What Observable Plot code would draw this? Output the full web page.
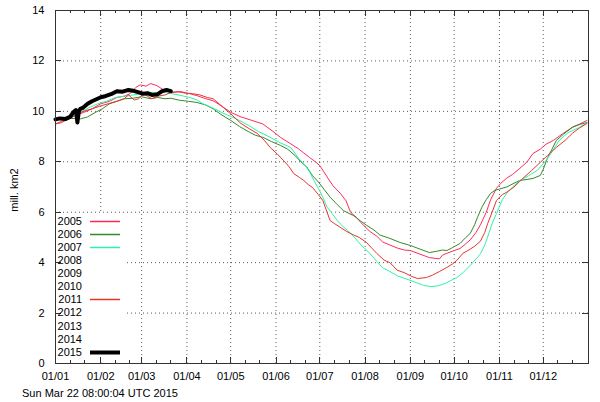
<!DOCTYPE html>
<html><head><meta charset="utf-8">
<script src="https://cdn.jsdelivr.net/npm/d3@7"></script>
<script src="https://cdn.jsdelivr.net/npm/@observablehq/plot@0.6"></script>
<style>body{margin:0;background:#fff}svg{display:block}</style>
</head><body><div id="chart"></div>
<script>
const legendYears = ["2005","2006","2007","2008","2009","2010","2011","2012","2013","2014","2015"];
const yearColors = {"2005":"#ff2a5a","2006":"#35892a","2007":"#2ef2aa","2011":"#e8352a","2015":"#000000"};
const monthStarts = [1,32,60,91,121,152,182,213,244,274,305,335];
const monthLabels = ["01/01","01/02","01/03","01/04","01/05","01/06","01/07","01/08","01/09","01/10","01/11","01/12"];
const yTicks = [0,2,4,6,8,10,12,14];
const footerText = "Sun Mar 22 08:00:04 UTC 2015";
const yTitle = "mill. km2";

const days2005 = [1,5,10,15,20,26,32,38,43,48,52,56,59,63,66,69,71,75,80,87,93,98,104,109,115,121,128,135,143,150,155,161,167,171,175,179,182,187,191,196,200,203,207,210,216,221,225,230,235,240,244,250,257,261,264,266,269,274,278,282,285,289,292,296,299,303,306,310,314,319,324,328,333,337,342,348,355,360,365];
const ext2005 = [9.5,9.55,9.7,9.85,9.95,10.1,10.3,10.4,10.55,10.6,10.7,10.95,11.05,11.0,11.1,11.05,11.0,10.85,10.75,10.78,10.7,10.62,10.5,10.42,10.2,9.96,9.78,9.65,9.5,9.2,8.97,8.75,8.53,8.35,8.17,8.0,7.85,7.4,7.05,6.75,6.45,6.0,5.8,5.6,5.25,5.05,4.82,4.7,4.58,4.5,4.48,4.35,4.2,4.17,4.15,4.3,4.37,4.48,4.56,4.75,4.9,5.2,5.5,6.0,6.5,6.95,7.15,7.35,7.5,7.74,8.0,8.33,8.5,8.7,8.85,9.1,9.37,9.5,9.64];

const days2006 = [1,6,12,18,23,28,33,38,43,48,54,60,66,71,76,80,86,92,98,104,109,115,121,127,133,138,143,149,155,160,165,169,173,177,181,185,189,194,198,202,205,210,214,219,223,230,237,244,250,257,262,266,269,273,278,282,285,288,290,293,296,299,302,305,310,315,319,324,328,333,335,338,341,344,349,355,360,365];
const ext2006 = [9.7,9.7,9.72,9.7,9.78,9.95,10.1,10.3,10.4,10.5,10.52,10.58,10.5,10.55,10.5,10.52,10.44,10.4,10.35,10.25,10.1,9.85,9.64,9.4,9.2,9.05,8.97,8.8,8.65,8.5,8.25,8.0,7.8,7.45,7.2,6.9,6.6,6.3,6.07,5.95,5.87,5.65,5.48,5.3,5.1,4.96,4.8,4.68,4.55,4.4,4.45,4.5,4.48,4.6,4.76,5.0,5.16,5.5,5.8,6.2,6.5,6.75,6.87,6.92,7.0,7.15,7.26,7.3,7.34,7.46,7.7,8.17,8.5,8.85,9.1,9.37,9.48,9.56];

const days2007 = [1,6,12,18,24,30,36,42,48,54,60,66,71,76,81,87,93,98,102,106,110,115,121,127,133,140,148,155,162,168,172,175,178,181,184,187,191,194,198,201,205,208,211,214,218,221,225,230,235,240,246,253,258,263,268,272,276,280,285,289,292,295,298,300,303,307,310,314,319,325,331,337,341,346,352,360,365];
const ext2007 = [9.7,9.75,9.8,9.95,10.15,10.3,10.4,10.55,10.6,10.65,10.7,10.75,10.72,10.75,10.7,10.63,10.55,10.45,10.3,10.2,10.1,9.95,9.8,9.64,9.45,9.2,8.97,8.75,8.57,8.1,7.85,7.6,7.25,6.95,6.6,6.2,5.9,5.67,5.42,5.28,5.05,4.85,4.65,4.5,4.25,4.05,3.8,3.65,3.48,3.38,3.25,3.1,3.05,3.08,3.18,3.3,3.41,3.6,3.89,4.15,4.35,4.7,5.2,5.55,5.95,6.5,6.75,7.0,7.26,7.45,7.66,8.06,8.4,8.85,9.15,9.37,9.55];

const days2011 = [1,5,10,15,20,26,31,37,43,48,51,55,58,61,64,67,71,76,80,85,90,95,100,105,109,115,121,128,134,139,144,148,153,157,161,164,168,171,174,177,181,184,187,189,192,196,200,205,209,214,218,221,226,230,235,240,245,249,255,259,264,269,273,276,280,284,288,292,295,297,300,303,307,310,315,321,327,333,338,344,350,355,360,365];
const ext2011 = [9.5,9.6,9.7,9.85,10.0,10.1,10.2,10.3,10.4,10.5,10.65,10.45,10.5,10.7,10.6,10.5,10.6,10.65,10.75,10.78,10.72,10.7,10.65,10.55,10.5,10.2,9.9,9.52,9.3,9.13,8.85,8.57,8.3,8.06,7.8,7.54,7.38,7.26,7.1,6.98,6.7,6.47,6.0,5.67,5.55,5.4,5.25,5.1,5.0,4.8,4.55,4.37,4.1,4.0,3.7,3.6,3.45,3.37,3.41,3.5,3.65,3.81,3.95,4.1,4.37,4.5,4.65,4.85,5.2,5.56,6.0,6.47,6.7,6.79,7.0,7.34,7.65,7.98,8.25,8.57,8.85,9.13,9.35,9.52];

const days2015 = [1,4,8,11,13,15,16,17,18,20,23,26,29,32,35,39,43,47,51,54,58,61,64,67,71,74,77,80];
const ext2015 = [9.68,9.72,9.7,9.78,9.95,10.05,9.56,10.0,10.1,10.15,10.3,10.4,10.48,10.56,10.6,10.68,10.8,10.78,10.85,10.82,10.75,10.7,10.72,10.65,10.68,10.8,10.85,10.8];

const series = [
  {year:"2005", days:days2005, vals:ext2005, w:1},
  {year:"2006", days:days2006, vals:ext2006, w:1},
  {year:"2007", days:days2007, vals:ext2007, w:1},
  {year:"2011", days:days2011, vals:ext2011, w:1},
  {year:"2015", days:days2015, vals:ext2015, w:4}
];
const labelOf = new Map(monthStarts.map((d,i)=>[d, monthLabels[i]]));
const gridStyle = {stroke:"#5a5a5a", strokeOpacity:1, strokeDasharray:"1,3"};
const FONT = "'Liberation Sans', Arial, sans-serif";

const chart = Plot.plot({
  width: 600, height: 402,
  marginLeft: 55, marginRight: 12, marginTop: 10, marginBottom: 39,
  style: {fontFamily: FONT, fontSize: "11px", color: "#000", background: "#fff"},
  x: {domain: [1, 366]},
  y: {domain: [0, 14]},
  marks: [
    Plot.gridX(monthStarts.slice(1), gridStyle),
    Plot.gridY(yTicks.slice(1, -1), gridStyle),
    ...series.map(s => Plot.line(s.days.map((d,i)=>({day:d, value:s.vals[i]})),
      {x:"day", y:"value", stroke: yearColors[s.year], strokeWidth: s.w, strokeLinejoin:"round"})),
    Plot.frame({stroke:"#333"}),
    Plot.axisX(monthStarts, {tickSize:0, tickPadding:9, tickFormat: d => labelOf.get(d), label:null}),
    Plot.axisY(yTicks, {tickSize:0, tickPadding:11, tickFormat: d => String(d), label:null})
  ]
});
document.getElementById("chart").appendChild(chart);

const svg = d3.select(chart);
const sx = chart.scale("x").apply, sy = chart.scale("y").apply;
const x0 = sx(1), x1 = sx(366), yb = sy(0), yt = sy(14);

// white box behind the key (covers grid)
const firstLine = chart.querySelector("g[aria-label='line']");
const box = document.createElementNS("http://www.w3.org/2000/svg","rect");
box.setAttribute("x", x0 + 1); box.setAttribute("y", 214);
box.setAttribute("width", 70); box.setAttribute("height", yb - 214 - 1);
box.setAttribute("fill", "#fff");
chart.insertBefore(box, firstLine);

// inward ticks
const tg = svg.append("g").attr("stroke", "#333").attr("stroke-width", 1);
const px = v => Math.round(v) + 0.5;
for (const m of monthStarts) {
  for (const [d, len] of [[m, 6], [m + 10, 3], [m + 20, 3]]) {
    if (d >= 366) continue;
    const x = px(sx(d));
    tg.append("line").attr("x1", x).attr("x2", x).attr("y1", yb).attr("y2", yb - len);
    tg.append("line").attr("x1", x).attr("x2", x).attr("y1", yt).attr("y2", yt + len);
  }
}
for (const v of yTicks) {
  const y = px(sy(v));
  tg.append("line").attr("x1", x0).attr("x2", x0 + 6).attr("y1", y).attr("y2", y);
  tg.append("line").attr("x1", x1).attr("x2", x1 - 6).attr("y1", y).attr("y2", y);
}

// key
const kg = svg.append("g").attr("font-family", FONT).attr("font-size", 11);
legendYears.forEach((yr, i) => {
  const y = 220.7 + 13.1 * i;
  kg.append("text").attr("x", 82).attr("y", y + 4).attr("text-anchor", "end").attr("fill", "#000").text(yr);
  if (yearColors[yr]) {
    kg.append("line").attr("x1", 90).attr("x2", 120).attr("y1", Math.round(y) + 0.5).attr("y2", Math.round(y) + 0.5)
      .attr("stroke", yearColors[yr]).attr("stroke-width", yr === "2015" ? 4 : 1.5);
  }
});

// y title and footer
svg.append("text").attr("transform", "translate(18,190) rotate(-90)").attr("text-anchor", "middle")
  .attr("font-family", FONT).attr("font-size", 11).text(yTitle);
svg.append("text").attr("x", 22).attr("y", 397).attr("text-anchor", "start")
  .attr("font-family", FONT).attr("font-size", 11).text(footerText);
</script>
</body></html>
